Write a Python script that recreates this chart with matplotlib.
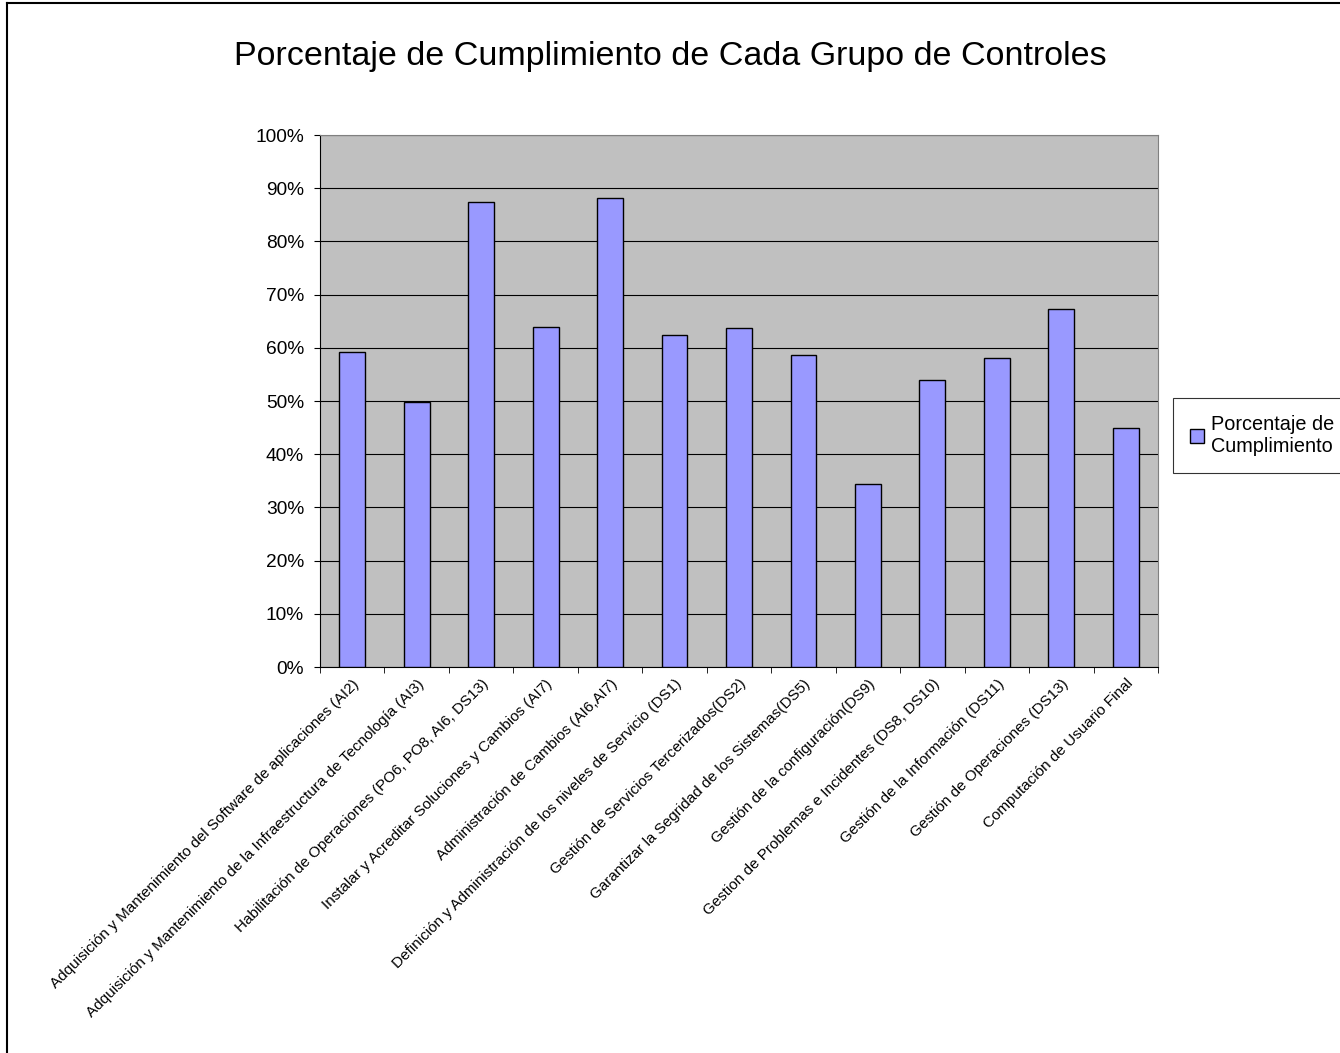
import numpy as np
import matplotlib.pyplot as plt
from matplotlib.ticker import FixedLocator, PercentFormatter
from matplotlib.lines import Line2D

plt.rcParams['font.family'] = ['Liberation Sans', 'DejaVu Sans']

# Datos
categorias = [
    "Adquisición y Mantenimiento del Software de aplicaciones (AI2)",
    "Adquisición y Mantenimiento de la Infraestructura de Tecnología (AI3)",
    "Habilitación de Operaciones (PO6, PO8, AI6, DS13)",
    "Instalar y Acreditar Soluciones y Cambios (AI7)",
    "Administración de Cambios (AI6,AI7)",
    "Definición y Administración de los niveles de Servicio (DS1)",
    "Gestión de Servicios Tercerizados(DS2)",
    "Garantizar la Segridad de los Sistemas(DS5)",
    "Gestión de la configuración(DS9)",
    "Gestion de Problemas e Incidentes (DS8, DS10)",
    "Gestión de la Información (DS11)",
    "Gestión de Operaciones (DS13)",
    "Computación de Usuario Final",
]
cumplimiento = [59.2, 49.9, 87.4, 63.9, 88.2, 62.4, 63.7, 58.6, 34.4, 53.9, 58.1, 67.3, 44.9]
serie = "Porcentaje de\nCumplimiento"

W, H = 1340, 1053
fig = plt.figure(figsize=(W / 100, H / 100), dpi=100)
ax = fig.add_axes([320 / W, 1 - 667 / H, 838 / W, 532 / H])

x = np.arange(len(categorias))
ax.bar(x, cumplimiento, width=0.4, color='#9999FF', edgecolor='black',
       linewidth=1, label=serie, zorder=3)

ax.set_facecolor('#C0C0C0')
ax.set_xlim(-0.5, len(categorias) - 0.5)
ax.set_ylim(0, 100)
ax.set_yticks(np.arange(0, 101, 10))
ax.yaxis.set_major_formatter(PercentFormatter(decimals=0))
ax.grid(axis='y', color='black', linewidth=0.8, zorder=1)

ax.set_xticks(x)
ax.set_xticklabels(categorias, rotation=45, ha='right', rotation_mode='anchor',
                   fontsize=11)
ax.tick_params(axis='x', length=0, pad=7)
ax.xaxis.set_minor_locator(FixedLocator(np.arange(-0.5, len(categorias), 1)))
ax.tick_params(axis='x', which='minor', length=4.5, direction='out')
ax.tick_params(axis='y', labelsize=13.8, length=4.5, pad=7, direction='out')

for lado in ['top', 'right']:
    ax.spines[lado].set_color('#808080')
for lado in ['left', 'bottom']:
    ax.spines[lado].set_color('black')

fig.suptitle("Porcentaje de Cumplimiento de Cada Grupo de Controles",
             fontsize=24.5, y=1 - 57 / H, va='center')

leg = fig.legend(loc='upper left', bbox_to_anchor=(1173 / W, 1 - 398 / H),
                 borderaxespad=0, fontsize=14.3, frameon=True, fancybox=False,
                 edgecolor='black', handlelength=0.7, handleheight=0.7,
                 handletextpad=0.35, borderpad=0.85)
leg.get_frame().set_linewidth(0.8)

# borde de la figura (arriba e izquierda)
fig.add_artist(Line2D([7 / W, 1], [1 - 3 / H, 1 - 3 / H], transform=fig.transFigure,
                      color='black', linewidth=1.5))
fig.add_artist(Line2D([7 / W, 7 / W], [0, 1 - 3 / H], transform=fig.transFigure,
                      color='black', linewidth=1.5))

fig.savefig("out.png", dpi=100)
